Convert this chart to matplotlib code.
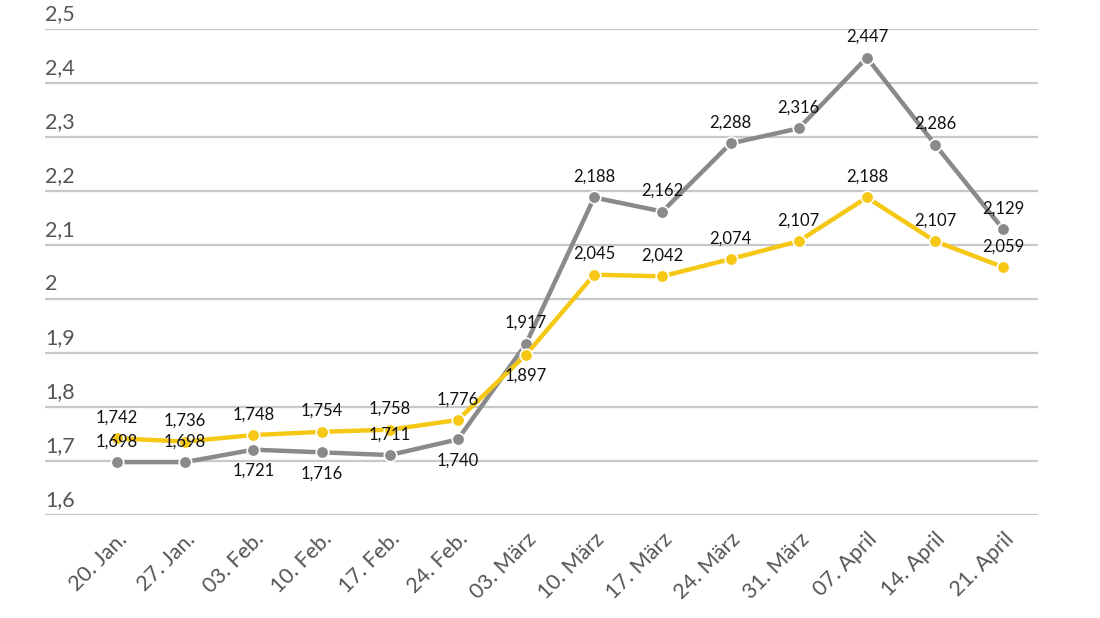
import matplotlib
matplotlib.use('Agg')
import matplotlib.pyplot as plt

plt.rcParams['font.family'] = ['Lato', 'DejaVu Sans']

dates = ['20. Jan.', '27. Jan.', '03. Feb.', '10. Feb.', '17. Feb.', '24. Feb.',
         '03. März', '10. März', '17. März', '24. März', '31. März',
         '07. April', '14. April', '21. April']
grey_vals = [1.698, 1.698, 1.721, 1.716, 1.711, 1.740, 1.917, 2.188, 2.162,
             2.288, 2.316, 2.447, 2.286, 2.129]
yellow_vals = [1.742, 1.736, 1.748, 1.754, 1.758, 1.776, 1.897, 2.045, 2.042,
               2.074, 2.107, 2.188, 2.107, 2.059]
# label placement: 1 = above the point, -1 = below
grey_pos = [1, 1, -1, -1, 1, -1, 1, 1, 1, 1, 1, 1, 1, 1]
yellow_pos = [1, 1, 1, 1, 1, 1, -1, 1, 1, 1, 1, 1, 1, 1]
yticks = [1.6, 1.7, 1.8, 1.9, 2.0, 2.1, 2.2, 2.3, 2.4, 2.5]

GREY = '#8a8a8a'
YELLOW = '#f5c816'

fig = plt.figure(figsize=(11, 6.18), dpi=100)
ax = fig.add_axes([45/1100, 1 - 515/618, (1038 - 45)/1100, (515 - 29)/618])

x = list(range(len(dates)))
ax.set_xlim(-1.056, 13.51)
ax.set_ylim(1.6, 2.5)

for y in yticks:
    ax.axhline(y, color='#c8c8c8', lw=1.6, zorder=1)
    lab = ('%g' % y).replace('.', ',')
    ax.text(0.0, y + 0.01, lab, transform=ax.get_yaxis_transform(),
            ha='left', va='bottom', fontsize=15.5, color='#555555', clip_on=False)

ax.plot(x, grey_vals, color=GREY, lw=3.2, marker='o', ms=9,
        mfc=GREY, mec='white', mew=1.2, zorder=3)
ax.plot(x, yellow_vals, color=YELLOW, lw=3.2, marker='o', ms=9,
        mfc=YELLOW, mec='white', mew=1.2, zorder=4)

for xi, v, p in zip(x, grey_vals, grey_pos):
    ax.annotate(('%.3f' % v).replace('.', ','), (xi, v), xytext=(0, 15 * p),
                textcoords='offset points', ha='center', va='center',
                fontsize=12, color='#111111', zorder=5)
for xi, v, p in zip(x, yellow_vals, yellow_pos):
    ax.annotate(('%.3f' % v).replace('.', ','), (xi, v), xytext=(0, 15 * p),
                textcoords='offset points', ha='center', va='center',
                fontsize=12, color='#111111', zorder=5)

ax.set_xticks(x)
ax.set_xticklabels(dates, rotation=45, ha='right', rotation_mode='anchor',
                   fontsize=15.5, color='#555555')
ax.tick_params(axis='x', length=0, pad=10)
ax.set_yticks([])
for s in ax.spines.values():
    s.set_visible(False)

fig.savefig('out.png', dpi=100, facecolor='white')
